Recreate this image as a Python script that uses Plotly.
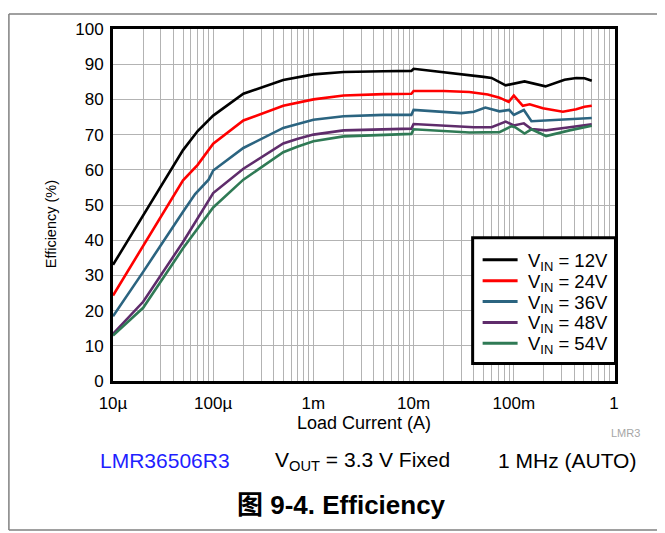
import plotly.graph_objects as go

# ---------------- data ----------------
series_names = ["V<sub>IN</sub> = 12V", "V<sub>IN</sub> = 24V", "V<sub>IN</sub> = 36V",
                "V<sub>IN</sub> = 48V", "V<sub>IN</sub> = 54V"]
series_colors = ["#000000", "#ff0000", "#2b6480", "#5f2c6b", "#2f7a55"]

i_12 = [10e-6, 20e-6, 50e-6, 70e-6, 100e-6, 200e-6, 500e-6, 1e-3, 2e-3, 5e-3, 9.5e-3, 10e-3,
        20e-3, 40e-3, 50e-3, 60e-3, 83e-3, 128e-3, 207e-3, 321e-3, 420e-3, 508e-3, 600e-3]
e_12 = [33.0, 47.0, 65.6, 71.0, 75.4, 81.6, 85.5, 87.1, 87.8, 88.0, 88.1, 88.7,
        87.8, 86.9, 86.4, 86.1, 84.0, 85.1, 83.7, 85.6, 86.1, 86.0, 85.3]

i_24 = [10e-6, 20e-6, 50e-6, 70e-6, 100e-6, 200e-6, 500e-6, 1e-3, 2e-3, 5e-3, 9.5e-3, 10e-3,
        20e-3, 36e-3, 55e-3, 72e-3, 89e-3, 100e-3, 123e-3, 144e-3, 195e-3, 309e-3, 420e-3, 508e-3, 600e-3]
e_24 = [24.3, 38.4, 57.0, 61.4, 67.4, 74.0, 78.2, 80.0, 81.1, 81.5, 81.6, 82.4,
        82.4, 82.1, 81.4, 80.5, 79.3, 81.1, 78.2, 78.6, 77.5, 76.5, 77.2, 77.9, 78.2]

i_36 = [10e-6, 20e-6, 50e-6, 66e-6, 90e-6, 100e-6, 200e-6, 500e-6, 1e-3, 2e-3, 5e-3, 9.5e-3, 10e-3,
        20e-3, 30e-3, 40e-3, 52e-3, 72e-3, 90e-3, 100e-3, 126e-3, 150e-3, 600e-3]
e_36 = [18.4, 31.0, 48.1, 53.1, 57.2, 59.8, 66.2, 71.9, 74.2, 75.2, 75.6, 75.6, 77.0,
        76.5, 76.1, 76.5, 77.7, 76.6, 77.0, 75.6, 77.0, 73.8, 74.7]

i_48 = [10e-6, 20e-6, 50e-6, 70e-6, 100e-6, 200e-6, 500e-6, 700e-6, 1e-3, 2e-3, 5e-3, 9.5e-3, 10e-3,
        20e-3, 40e-3, 60e-3, 83e-3, 100e-3, 126e-3, 150e-3, 210e-3, 360e-3, 600e-3]
e_48 = [13.4, 22.5, 39.5, 46.3, 53.4, 60.3, 67.5, 68.8, 70.0, 71.2, 71.6, 71.7, 73.0,
        72.6, 72.1, 72.1, 73.7, 72.6, 73.2, 71.6, 71.2, 72.1, 72.9]

i_54 = [10e-6, 20e-6, 50e-6, 70e-6, 100e-6, 200e-6, 500e-6, 700e-6, 1e-3, 2e-3, 5e-3, 9.5e-3, 10e-3,
        20e-3, 36e-3, 72e-3, 95e-3, 103e-3, 128e-3, 150e-3, 210e-3, 360e-3, 600e-3]
e_54 = [12.9, 20.8, 37.7, 43.5, 49.3, 57.2, 65.0, 66.6, 68.1, 69.5, 70.0, 70.2, 71.5,
        71.1, 70.6, 70.7, 72.4, 72.1, 70.3, 71.5, 69.6, 71.2, 72.5]

x_tick_vals = [1e-5, 1e-4, 1e-3, 1e-2, 1e-1, 1]
x_tick_text = ["10µ", "100µ", "1m", "10m", "100m", "1"]
y_tick_vals = [0, 10, 20, 30, 40, 50, 60, 70, 80, 90, 100]

FONT = "Liberation Sans, Arial, Helvetica, Noto Sans CJK SC, sans-serif"

# grid positions (major + minor per decade); labels only at decades
grid_vals = []
grid_text = []
for dec in range(-5, 0):
    for m in range(1, 10):
        grid_vals.append(m * 10 ** dec)
        grid_text.append(x_tick_text[dec + 5] if m == 1 else "")
grid_vals.append(x_tick_vals[-1])
grid_text.append(x_tick_text[-1])

fig = go.Figure()
for name, col, xs, ys in zip(series_names, series_colors,
                             [i_12, i_24, i_36, i_48, i_54],
                             [e_12, e_24, e_36, e_48, e_54]):
    fig.add_trace(go.Scatter(x=xs, y=ys, mode="lines", name=name,
                             line=dict(color=col, width=2.6), showlegend=False))

# page has an 8px body margin: work in page pixels and convert
OFF = 8
W, H = 665 - OFF, 533 - OFF
L = 113 - OFF
T = 24 - OFF
pw = 502.5
ph = 381 - 24
R = W - L - pw
B = H - T - ph


def px(xp):
    return (xp - OFF - L) / pw


def py(yp):
    return (381 - yp) / ph


fig.update_layout(
    width=W, height=H,
    margin=dict(l=L, r=R, t=T, b=B, pad=0),
    paper_bgcolor="white", plot_bgcolor="white",
    font=dict(family=FONT, color="black", size=17),
    showlegend=False,
    xaxis=dict(type="log", range=[-5, 0.01],
               tickvals=grid_vals, ticktext=grid_text, ticks="",
               showgrid=True, gridcolor="#b3b3b3", gridwidth=1.4,
               showline=True, linecolor="black", linewidth=3, mirror=True,
               ticklabelstandoff=5, zeroline=False,
               tickfont=dict(size=17, family=FONT)),
    yaxis=dict(range=[0, 100], tickvals=y_tick_vals, ticks="",
               showgrid=True, gridcolor="#b3b3b3", gridwidth=1.4,
               showline=True, linecolor="black", linewidth=3, mirror=True,
               ticklabelstandoff=3, zeroline=False,
               tickfont=dict(size=17, family=FONT)),
)

annots = [
    dict(text="Load Current (A)", x=px(364), y=py(424), xanchor="center", yanchor="middle",
         font=dict(size=18)),
    dict(text="Efficiency (%)", x=px(51), y=py(222), xanchor="center", yanchor="middle",
         textangle=-90, font=dict(size=14.5)),
    dict(text="LMR3", x=px(643), y=py(434), xanchor="right", yanchor="middle",
         font=dict(size=11, color="#a6a6a6")),
    dict(text="LMR36506R3", x=px(98), y=py(462), xanchor="left", yanchor="middle",
         font=dict(size=21, color="#1f1fff")),
    dict(text="V<sub>OUT</sub> = 3.3 V Fixed", x=px(273), y=py(462), xanchor="left", yanchor="middle",
         font=dict(size=21)),
    dict(text="1 MHz (AUTO)", x=px(496), y=py(462), xanchor="left", yanchor="middle",
         font=dict(size=21)),
    dict(text="<b>图 9-4. Efficiency</b>", x=px(342), y=py(507), xanchor="center", yanchor="middle",
         font=dict(size=26)),
]

# legend (box, sample lines, labels)
fig.add_shape(type="rect", xref="paper", yref="paper",
              x0=px(473), x1=px(616), y0=py(363.3), y1=py(235.7),
              line=dict(color="black", width=3), fillcolor="white", layer="above")
for k, (name, col) in enumerate(zip(series_names, series_colors)):
    yrow = 258 + 21.2 * k
    fig.add_shape(type="line", xref="paper", yref="paper",
                  x0=px(483), x1=px(518), y0=py(yrow), y1=py(yrow),
                  line=dict(color=col, width=3), layer="above")
    annots.append(dict(text=name, x=px(526), y=py(yrow + 2), xanchor="left", yanchor="middle",
                       font=dict(size=18.5)))

for a in annots:
    a.update(xref="paper", yref="paper", showarrow=False)
    fig.add_annotation(**a)

# outer gray frame (open on the right, as in the reference)
frame_col = "#808080"
fig.add_shape(type="line", xref="paper", yref="paper", x0=px(8.8), x1=px(8.8), y0=py(532), y1=py(8.8),
              line=dict(color=frame_col, width=1.5))
fig.add_shape(type="line", xref="paper", yref="paper", x0=px(8.8), x1=px(665), y0=py(8.8), y1=py(8.8),
              line=dict(color=frame_col, width=1.5))
fig.add_shape(type="line", xref="paper", yref="paper", x0=px(8.8), x1=px(665), y0=py(532), y1=py(532),
              line=dict(color=frame_col, width=1.5))

fig.write_html("out.html")
